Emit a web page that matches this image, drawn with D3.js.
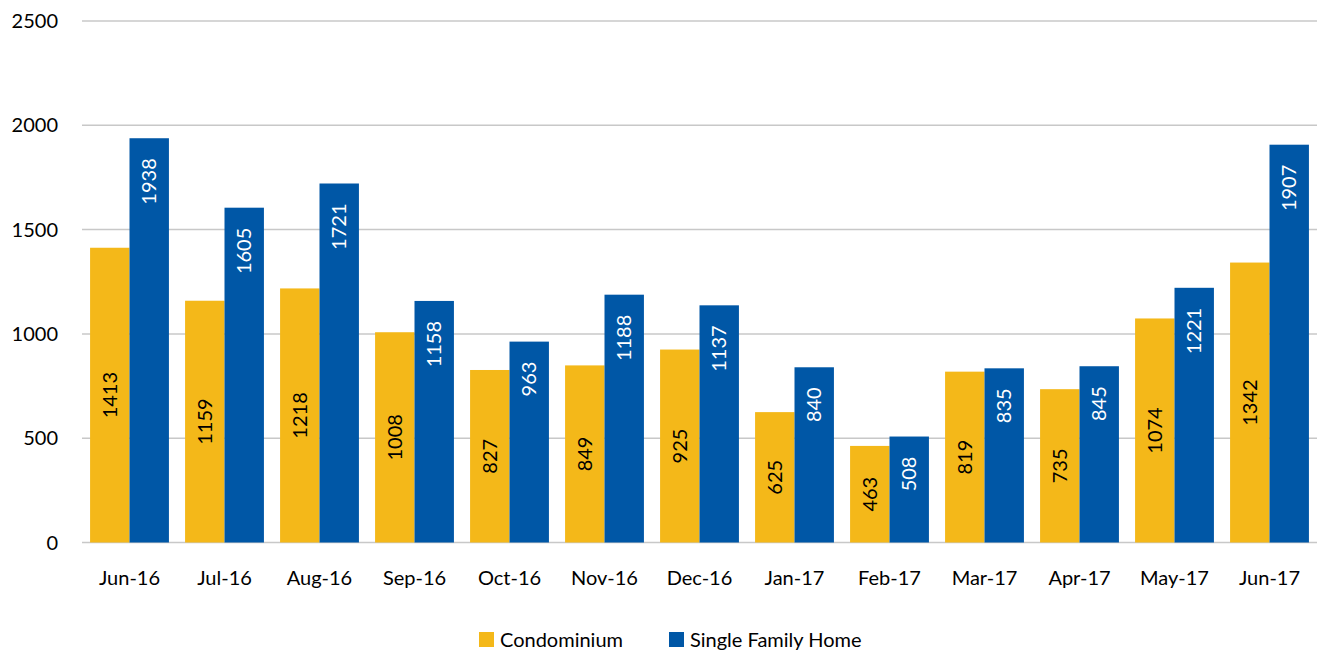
<!DOCTYPE html>
<html>
<head>
<meta charset="utf-8">
<script src="https://cdn.jsdelivr.net/npm/d3@7"></script>
<style>
  body { margin: 0; background: #fff; }
  svg { font-family: "Lato", "Open Sans", sans-serif; }
</style>
</head>
<body>
<svg id="chart" width="1319" height="656"></svg>
<script>
var months = ["Jun-16", "Jul-16", "Aug-16", "Sep-16", "Oct-16", "Nov-16", "Dec-16",
              "Jan-17", "Feb-17", "Mar-17", "Apr-17", "May-17", "Jun-17"];
var condo = [1413, 1159, 1218, 1008, 827, 849, 925, 625, 463, 819, 735, 1074, 1342];
var single = [1938, 1605, 1721, 1158, 963, 1188, 1137, 840, 508, 835, 845, 1221, 1907];
var seriesNames = ["Condominium", "Single Family Home"];
var yTicks = [0, 500, 1000, 1500, 2000, 2500];

var colors = ["#F4B819", "#0057A6"];
var labelColors = ["#000", "#fff"];

var svg = d3.select("#chart"),
    plotLeft = 82, plotRight = 1317, plotTop = 21, plotBottom = 542.5;

var x = d3.scaleBand().domain(months).range([plotLeft, plotRight]).paddingInner(0.17).paddingOuter(0.085);
var x1 = d3.scaleBand().domain([0, 1]).range([0, x.bandwidth()]);
var y = d3.scaleLinear().domain([0, 2500]).range([plotBottom, plotTop]);

// gridlines
svg.append("g").selectAll("line")
  .data(yTicks)
  .enter().append("line")
    .attr("x1", plotLeft).attr("x2", plotRight)
    .attr("y1", function(d) { return y(d); })
    .attr("y2", function(d) { return y(d); })
    .attr("stroke", "#c8c8c8")
    .attr("stroke-width", 1.5);

// y labels
svg.append("g").selectAll("text")
  .data(yTicks)
  .enter().append("text")
    .attr("x", 58)
    .attr("y", function(d) { return y(d); })
    .attr("dy", "0.35em")
    .attr("text-anchor", "end")
    .attr("font-size", 20)
    .attr("fill", "#000")
    .text(function(d) { return d; });

// x labels
svg.append("g").selectAll("text")
  .data(months)
  .enter().append("text")
    .attr("x", function(d) { return x(d) + x.bandwidth() / 2; })
    .attr("y", 585)
    .attr("text-anchor", "middle")
    .attr("font-size", 20)
    .attr("fill", "#000")
    .text(function(d) { return d; });

var rows = months.map(function(m, i) {
  return { month: m, vals: [condo[i], single[i]] };
});

var groups = svg.append("g").selectAll("g")
  .data(rows)
  .enter().append("g")
    .attr("transform", function(d) { return "translate(" + x(d.month) + ",0)"; });

groups.selectAll("rect")
  .data(function(d) { return d.vals.map(function(v, k) { return { k: k, v: v }; }); })
  .enter().append("rect")
    .attr("x", function(d) { return x1(d.k); })
    .attr("width", x1.bandwidth())
    .attr("y", function(d) { return y(d.v); })
    .attr("height", function(d) { return plotBottom - y(d.v); })
    .attr("fill", function(d) { return colors[d.k]; });

// value labels: condo centred, single family inside end
groups.selectAll("text")
  .data(function(d) { return d.vals.map(function(v, k) { return { k: k, v: v }; }); })
  .enter().append("text")
    .attr("transform", function(d) {
      var cx = x1(d.k) + x1.bandwidth() / 2;
      var cy = d.k === 0 ? (y(d.v) + plotBottom) / 2 : y(d.v) + 20;
      return "translate(" + cx + "," + cy + ") rotate(-90)";
    })
    .attr("text-anchor", function(d) { return d.k === 0 ? "middle" : "end"; })
    .attr("dy", "0.35em")
    .attr("font-size", 20)
    .attr("fill", function(d) { return labelColors[d.k]; })
    .text(function(d) { return d.v; });

// legend
var legendX = [479, 669];
var legend = svg.append("g").selectAll("g")
  .data(seriesNames)
  .enter().append("g")
    .attr("transform", function(d, i) { return "translate(" + legendX[i] + ",632)"; });

legend.append("rect")
  .attr("width", 15).attr("height", 15)
  .attr("fill", function(d, i) { return colors[i]; });

legend.append("text")
  .attr("x", 21).attr("y", 7.5)
  .attr("dy", "0.35em")
  .attr("font-size", 20)
  .attr("fill", "#000")
  .text(function(d) { return d; });
</script>
</body>
</html>
